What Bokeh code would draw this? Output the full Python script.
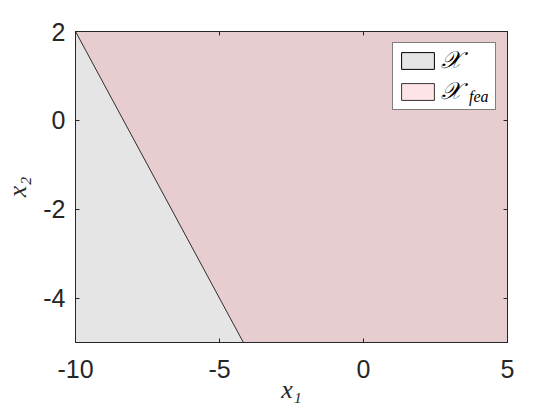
from bokeh.plotting import figure
from bokeh.models import LinearAxis, Range1d, FixedTicker, Legend, LegendItem
from bokeh.embed import file_html
from bokeh.resources import INLINE

# ---- data ----
x_limits = [-10, 5]
y_limits = [-5, 2]
x_ticks = [-10, -5, 0, 5]
y_ticks = [-4, -2, 0, 2]
domain_x = [-10, 5, 5, -10]          # set X (whole box)
domain_y = [-5, -5, 2, 2]
feasible_x = [-10, 5, 5, -4.17]      # feasible set X_fea
feasible_y = [2, 2, -5, -5]
legend_labels = ["𝒳", "𝒳"]
legend_subscript = "fea"
x_label = "x₁"
y_label = "x₂"

AX = "#262626"
GRAY = "#e5e5e5"
FEA_COLOR = (255, 21, 46)
FEA_ALPHA = 0.115

p = figure(width=552, height=412, output_backend="svg", toolbar_location=None,
           x_range=Range1d(*x_limits), y_range=Range1d(*y_limits),
           min_border_left=73, min_border_right=45, min_border_top=31, min_border_bottom=70,
           x_axis_label=x_label, y_axis_label=y_label)
p.grid.visible = False
p.background_fill_color = "white"
p.outline_line_color = AX

r_dom = p.patch(domain_x, domain_y, fill_color=GRAY, line_color="black", line_width=1)
r_fea = p.patch(feasible_x, feasible_y, fill_color=FEA_COLOR, fill_alpha=FEA_ALPHA,
                line_color="black", line_width=0.8)
r_none = p.patch(x=[], y=[], fill_color=None, line_color=None)   # carrier for the subscript text

for ax, ticks in ((p.xaxis[0], x_ticks), (p.yaxis[0], y_ticks)):
    ax.ticker = FixedTicker(ticks=ticks)
    ax.major_label_overrides = {t: str(t) for t in ticks}
    ax.major_tick_in = 4
    ax.major_tick_out = 0
    ax.minor_tick_line_color = None
    ax.axis_line_color = AX
    ax.major_tick_line_color = AX
    ax.major_label_text_color = AX
    ax.major_label_text_font = "Liberation Sans"
    ax.major_label_text_font_size = "25px"
    ax.axis_label_text_font = "Liberation Serif"
    ax.axis_label_text_font_style = "italic"
    ax.axis_label_text_font_size = "26px"
    ax.axis_label_text_color = AX
p.xaxis[0].major_label_standoff = 17
p.xaxis[0].axis_label_standoff = -6
p.yaxis[0].major_label_standoff = 10
p.yaxis[0].axis_label_standoff = 8

# mirrored ticks on top and right
top = LinearAxis(ticker=FixedTicker(ticks=x_ticks), major_label_overrides={t: "" for t in x_ticks})
right = LinearAxis(ticker=FixedTicker(ticks=y_ticks), major_label_overrides={t: "" for t in y_ticks})
for ax in (top, right):
    ax.major_tick_in = 4
    ax.major_tick_out = 0
    ax.minor_tick_line_color = None
    ax.axis_line_color = AX
    ax.major_tick_line_color = AX
    ax.major_label_text_font_size = "1px"
    ax.major_label_standoff = 0
p.add_layout(top, "above")
p.add_layout(right, "right")

legend = Legend(items=[LegendItem(label=legend_labels[0], renderers=[r_dom]),
                       LegendItem(label=legend_labels[1], renderers=[r_fea])],
                location="top_right", margin=11, padding=4, spacing=4,
                glyph_width=41, glyph_height=21, label_standoff=3, label_width=50,
                label_text_font="Liberation Serif", label_text_font_style="italic",
                label_text_font_size="24px", label_text_color="black",
                border_line_color="black", border_line_width=1,
                background_fill_color="white", background_fill_alpha=1)
p.add_layout(legend, "center")

# subscript "fea" of the second entry: a transparent legend drawn on top of the first
sub = Legend(items=[LegendItem(label=legend_subscript, renderers=[r_none])],
             location=(394, 236), margin=0, padding=0, spacing=0,
             glyph_width=0, glyph_height=16, label_standoff=0, label_width=10, label_height=16,
             label_text_font="Liberation Serif", label_text_font_style="italic",
             label_text_font_size="16px", label_text_color="black",
             border_line_color=None, background_fill_alpha=0)
p.add_layout(sub, "center")

open("out.html", "w").write(file_html(p, INLINE))
